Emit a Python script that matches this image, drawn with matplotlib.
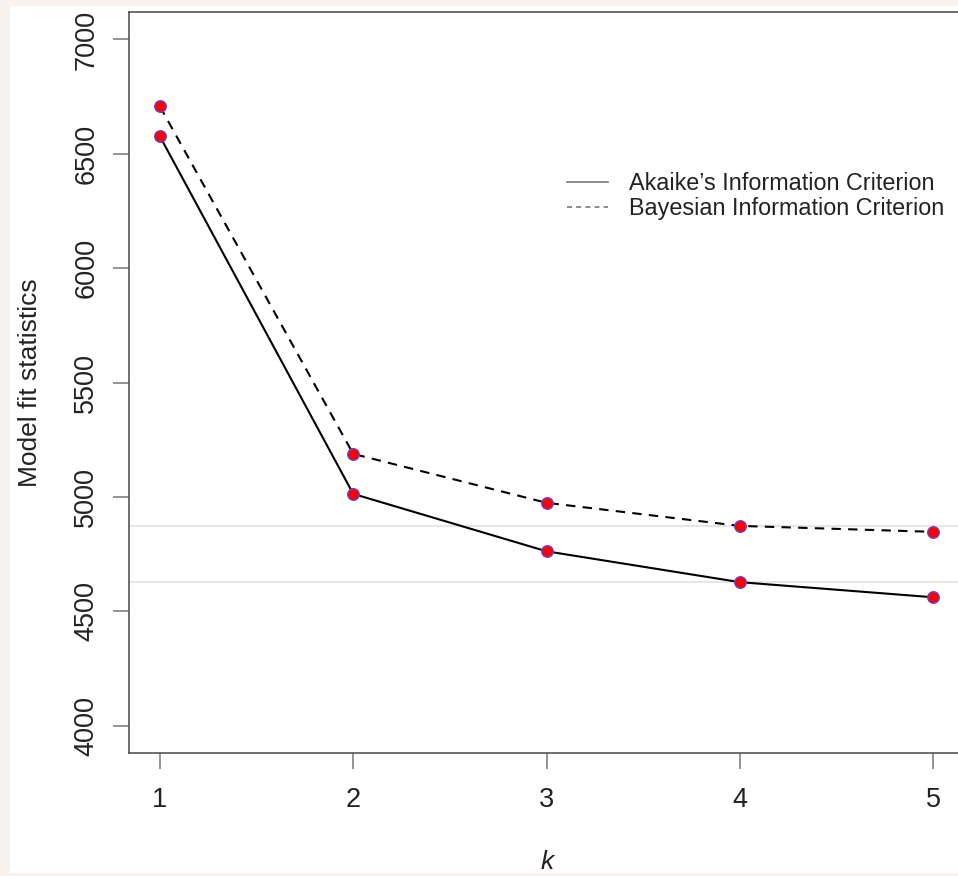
import matplotlib
matplotlib.use("Agg")
import matplotlib.pyplot as plt
from matplotlib.patches import Rectangle
from matplotlib.lines import Line2D

plt.rcParams['font.family'] = ['Liberation Sans', 'DejaVu Sans']

k = [1, 2, 3, 4, 5]
aic = [6576, 5013, 4762, 4627, 4561]
bic = [6707, 5188, 4974, 4873, 4847]
ref_lines = [4873, 4627]
yticks = [4000, 4500, 5000, 5500, 6000, 6500, 7000]
labels = ["Akaike\u2019s Information Criterion", "Bayesian Information Criterion"]

W, H = 958, 876
fig = plt.figure(figsize=(W / 100, H / 100), dpi=100)
fig.patch.set_facecolor('#f8f3ef')
bg = Rectangle((10 / W, 3 / H), 1, 1 - 9 / H, transform=fig.transFigure,
               facecolor='white', edgecolor='none', zorder=-10)
fig.patches.append(bg)

left, right, top, bottom = 129, 964, 12, 753
ax = fig.add_axes([left / W, 1 - bottom / H, (right - left) / W, (bottom - top) / H])
ax.set_zorder(1)
ax.set_facecolor('white')

for v in ref_lines:
    ax.axhline(v, color='#e6e6e6', lw=1.5, zorder=1)

ax.plot(k, aic, color='black', lw=1.5, zorder=3)
ax.plot(k, bic, color='black', lw=1.5, ls=(0, (4.5, 3.5)), zorder=3)
ax.plot(k, aic, ls='none', marker='o', ms=8.3, mfc='#ff0000', mec='#6a40d0', mew=1.0, zorder=4)
ax.plot(k, bic, ls='none', marker='o', ms=8.3, mfc='#ff0000', mec='#6a40d0', mew=1.0, zorder=4)

ax.set_xlim(0.84, 5.16)
ax.set_ylim(3880, 7120)
ax.set_xticks(k)
ax.set_yticks(yticks)
ax.set_yticklabels([str(t) for t in yticks], rotation=90, va='center')

for s in ['left', 'bottom', 'top', 'right']:
    ax.spines[s].set_color('#555555')
    ax.spines[s].set_linewidth(1.2)

ax.tick_params(axis='both', which='major', length=11.5, width=1.1, color='#777777',
               labelsize=19.5, labelcolor='#222222')
ax.tick_params(axis='y', pad=10)
ax.tick_params(axis='x', pad=13)

ax.set_ylabel('Model fit statistics', fontsize=19, color='#222222')
ax.yaxis.set_label_coords(-0.1186, 0.5)
ax.yaxis.label.set_va('center')
ax.set_xlabel('k', fontsize=19, style='italic', color='#222222')
ax.xaxis.set_label_coords(0.5006, -0.147)
ax.xaxis.label.set_va('center')

handles = [Line2D([], [], color='#777777', lw=1.2),
           Line2D([], [], color='#777777', lw=1.2, ls=(0, (3, 2.5)))]
leg = ax.legend(handles, labels, loc='upper left',
                bbox_to_anchor=(567 / W, 1 - 172 / H), bbox_transform=fig.transFigure,
                frameon=False, fontsize=16.8, handlelength=1.75, handletextpad=0.9,
                labelspacing=0.1, borderpad=0, borderaxespad=0, labelcolor='#222222')

fig.savefig('out.png', dpi=100, facecolor=fig.get_facecolor())
